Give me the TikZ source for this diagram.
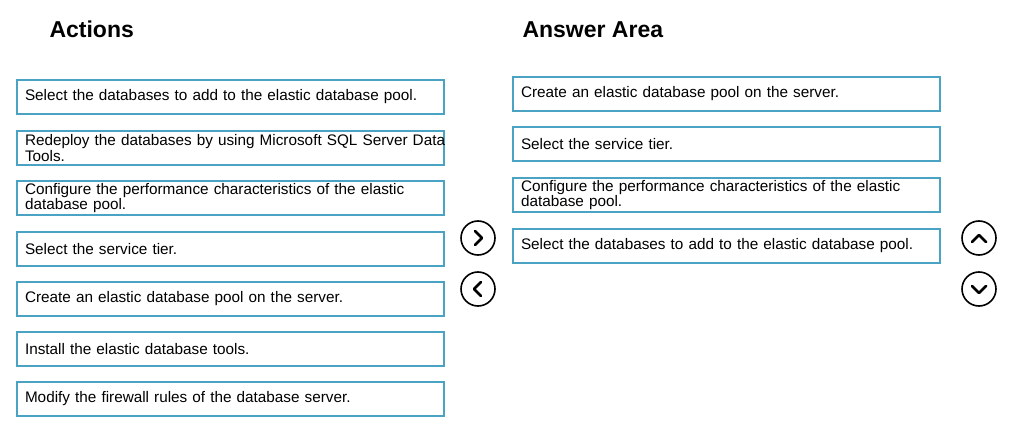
\documentclass[tikz,border=0pt]{standalone}
\usepackage{fontspec}
\setmainfont{Liberation Sans}
\usepackage{tikz}
\usetikzlibrary{arrows}

\definecolor{boxline}{RGB}{75,163,195}

\begin{document}
\begin{tikzpicture}[x=1pt,y=-1pt,
  heading/.style={anchor=base west,font=\fontsize{23}{28}\selectfont\bfseries},
  actionbox/.style={draw=boxline,line width=1.5pt,minimum height=34pt,
    text width=411pt,inner xsep=8pt,inner ysep=0pt,align=left,
    font=\fontsize{15.3}{14}\selectfont},
  movebtn/.style={circle,draw,line width=1.6pt,minimum size=34pt,inner sep=0pt},
  chev/.style={line width=2.8pt,line cap=round,line join=round}]
\useasboundingbox (0,0) rectangle (1009,430);

\node[heading] (acthead) at (46,38) {Actions};
\node[heading] (anshead) at (519,38) {Answer Area};

% actions
\node[actionbox] (act1) at (230.5,97) {Select the databases to add to the elastic database pool.};
\node[actionbox] (act2) at (230.5,148) {\mbox{Redeploy the databases by using Microsoft SQL Server Data}\\Tools.};
\node[actionbox] (act3) at (230.5,198) {Configure the performance characteristics of the elastic\\database pool.};
\node[actionbox] (act4) at (230.5,249) {Select the service tier.};
\node[actionbox] (act5) at (230.5,299) {Create an elastic database pool on the server.};
\node[actionbox] (act6) at (230.5,349) {Install the elastic database tools.};
\node[actionbox] (act7) at (230.5,399) {Modify the firewall rules of the database server.};

% answer area
\node[actionbox] (ans1) at (726.5,94) {Create an elastic database pool on the server.};
\node[actionbox] (ans2) at (726.5,144) {Select the service tier.};
\node[actionbox] (ans3) at (726.5,195) {Configure the performance characteristics of the elastic\\database pool.};
\node[actionbox] (ans4) at (726.5,246) {Select the databases to add to the elastic database pool.};

% buttons
\begin{scope}
\node[movebtn] (mvright) at (478,238) {};
\node[movebtn] (mvleft) at (478,289) {};
\node[movebtn] (mvup) at (979,238) {};
\node[movebtn] (mvdown) at (979,289) {};
\draw[chev] ([shift={(-3,-7)}]mvright.center) -- ++(7,7) -- ++(-7,7);
\draw[chev] ([shift={(3,-7)}]mvleft.center) -- ++(-7,7) -- ++(7,7);
\draw[chev] ([shift={(-7,4)}]mvup.center) -- ++(7,-7) -- ++(7,7);
\draw[chev] ([shift={(-7,-3)}]mvdown.center) -- ++(7,7) -- ++(7,-7);
\end{scope}
\end{tikzpicture}
\end{document}
